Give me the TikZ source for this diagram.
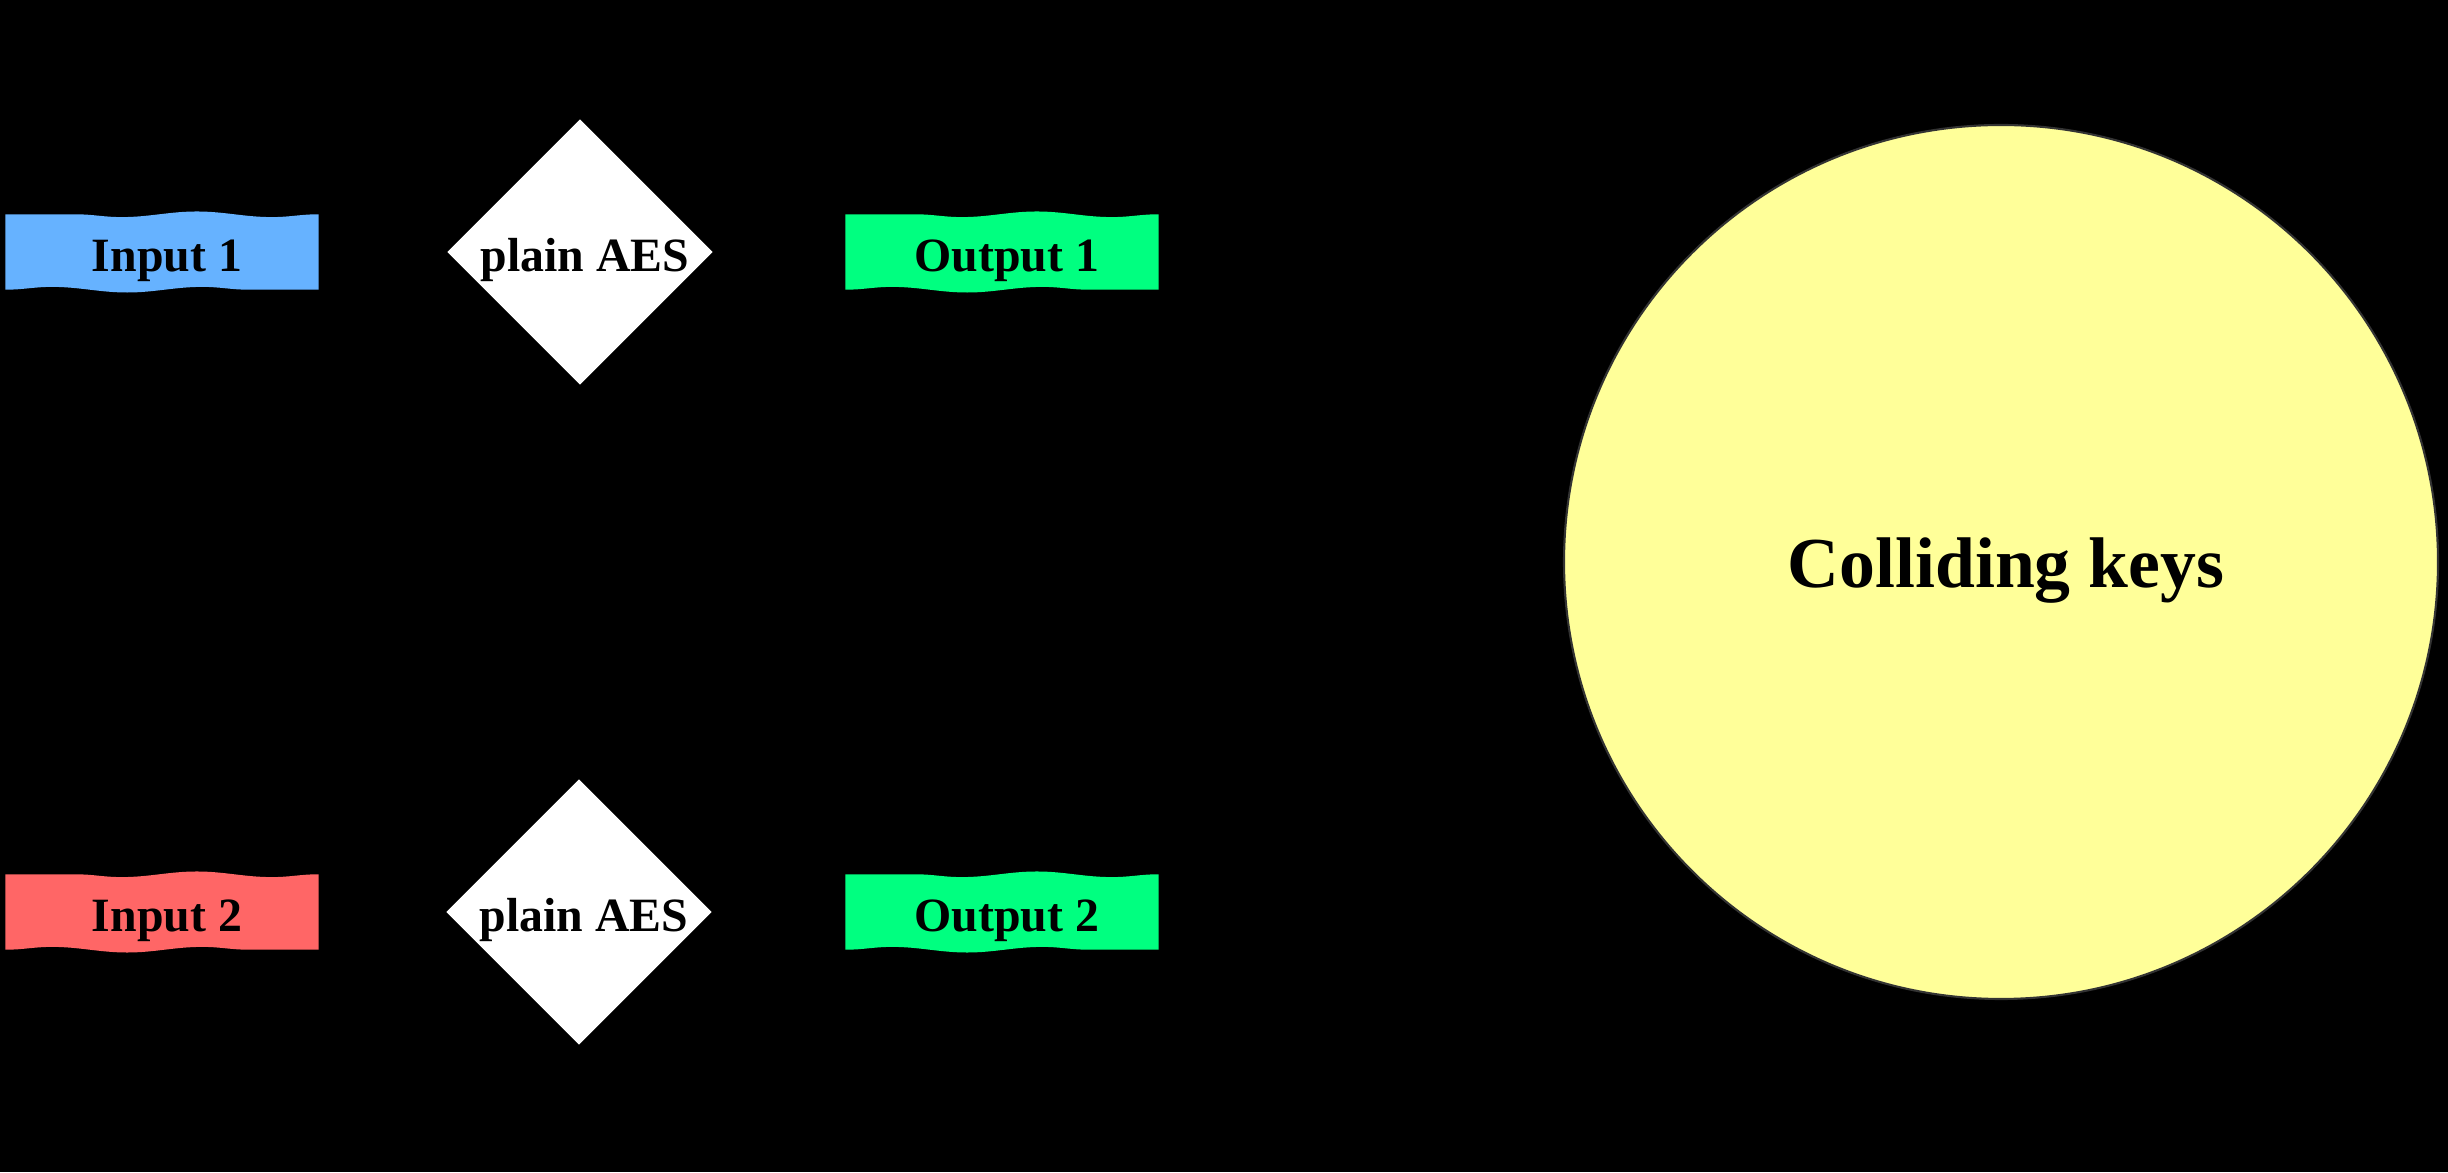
\documentclass[tikz,border=0pt]{standalone}
\usepackage{fontspec}
\setmainfont{Liberation Serif}
\usetikzlibrary{shapes.geometric,backgrounds,decorations.pathmorphing}
\definecolor{inblue}{HTML}{66B2FF}
\definecolor{inred}{HTML}{FF6666}
\definecolor{outgreen}{HTML}{00FF80}
\definecolor{keyyellow}{HTML}{FFFF99}
\begin{document}
\begin{tikzpicture}[
  font=\fontsize{13.6}{16}\selectfont\bfseries,
  every node/.append style={execute at begin node={\hspace{0.1cm}}},
  databox/.style={rectangle, inner sep=0pt, minimum width=3.12cm, minimum height=0.74cm, text height=0.4cm, text depth=0cm},
  cipher/.style={diamond, aspect=1, fill=white, inner sep=0pt, minimum size=2.66cm, text height=0.4cm, text depth=0cm},
  keyset/.style={circle, fill=keyyellow, draw=black!80, line width=0.6pt, minimum size=8.74cm, inner sep=0pt, text height=0.68cm, text depth=0.16cm, font=\fontsize{20.4}{24}\selectfont\bfseries},
  wavy/.style={decoration={snake, segment length=1.5cm, amplitude=0.8pt}}
]
\useasboundingbox (0,0) rectangle (24.48,11.72);
\begin{scope}[on background layer]
\fill[black] (0,0) rectangle (24.48,11.72);
\end{scope}
% first row
\node[databox] (in1) at (1.62,9.20){Input 1};
\node[cipher] (aes1) at (5.80,9.20){plain AES};
\node[databox] (out1) at (10.02,9.20){Output 1};
% second row
\node[databox] (in2) at (1.62,2.60){Input 2};
\node[cipher] (aes2) at (5.79,2.60){plain AES};
\node[databox] (out2) at (10.02,2.60){Output 2};
% key set
\node[keyset] (keys) at (20.01,6.10){Colliding keys};
\begin{scope}[on background layer, wavy]
\fill[inblue] (in1.south west) decorate{-- (in1.south east)} -- (in1.north east) decorate{-- (in1.north west)} -- cycle;
\fill[outgreen] (out1.south west) decorate{-- (out1.south east)} -- (out1.north east) decorate{-- (out1.north west)} -- cycle;
\fill[inred] (in2.south west) decorate{-- (in2.south east)} -- (in2.north east) decorate{-- (in2.north west)} -- cycle;
\fill[outgreen] (out2.south west) decorate{-- (out2.south east)} -- (out2.north east) decorate{-- (out2.north west)} -- cycle;
\end{scope}
\end{tikzpicture}
\end{document}
